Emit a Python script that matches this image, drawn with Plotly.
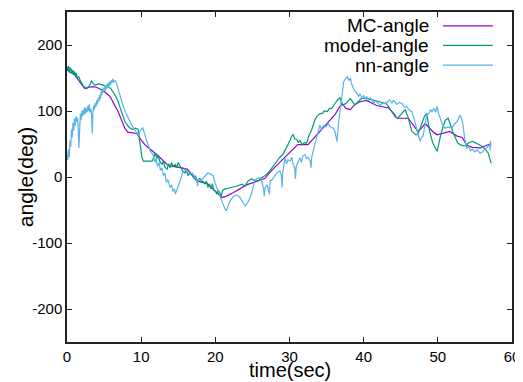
import plotly.graph_objects as go

# ---- data ----
mc_t = [0, 1, 2, 2.4, 3, 3.4, 4, 4.4, 5, 5.8, 6.4, 6.9, 7.4, 7.8, 8.2, 9.4, 10, 10.5, 11, 12.1,
        13.5, 14.2, 15, 16.2, 16.8, 17.5, 18.9, 20, 20.9, 21.5, 22.4, 24.2, 25.5, 26.7, 27.6,
        28.4, 29.8, 31.1, 32.5, 33.7, 35.1, 36.1, 36.8, 37.1, 37.6, 38.2, 38.8, 39.5, 40.4,
        41.1, 41.8, 43.3, 44, 44.5, 46, 46.6, 47.3, 47.8, 48.3, 48.8, 49.3, 49.9, 50.7, 51.6,
        52.6, 53.3, 53.9, 54.7, 55.7, 57]
mc_v = [162, 155, 140, 134, 136, 137, 136, 134, 130, 122, 110, 99, 85, 74, 68, 66, 56, 49, 44, 34,
        19, 16, 15, 12, 4, -6, -10, -22, -31, -29, -24, -12, -7, -2, 10,
        19, 34, 49, 49, 64, 80, 94, 107, 111, 104, 102, 110, 114, 116,
        112, 108, 105, 97, 89, 89, 80, 69, 74, 81, 75, 69, 64, 66, 69,
        62, 60, 48, 45, 44, 50]

model_t = [0, 0.1, 0.2, 0.3, 0.4, 0.5, 0.6, 0.7, 0.8, 0.9, 1.0, 1.1, 1.2, 1.4, 1.6, 1.8, 2.2, 2.7,
           3.1, 3.3, 3.5, 3.8, 4.2, 4.7, 5.1, 5.5, 5.9, 6.2, 6.6, 6.9, 7.3, 7.8, 8.3, 8.8, 9.2,
           9.6, 9.8, 10.1, 10.3, 11, 11.5, 11.9, 12.1, 12.3, 12.5, 12.8, 13.0, 13.2, 13.5, 13.7,
           13.9, 14.1, 14.3, 14.6, 14.8, 15.0, 15.2, 15.4, 15.6, 15.9, 16.1, 16.3, 16.6, 16.9,
           17.1, 17.3, 17.5, 17.7, 17.9, 18.1, 18.3, 18.6, 18.8, 19.0, 19.2, 19.4, 19.6, 19.8,
           20.0, 20.2, 20.4, 20.6, 20.8, 21.0, 21.3, 21.7, 22.2, 22.8, 23.6, 24.0, 24.4, 24.9,
           25.4, 25.8, 26.2, 26.7, 27.1, 27.6, 28.0, 28.4, 28.7, 29.1, 29.5, 29.8, 30.1, 30.3,
           30.5, 30.7, 31.0, 31.2, 31.4, 31.7, 32.0, 32.3, 32.6, 33.0, 33.2, 33.4, 33.7, 33.9,
           34.1, 34.4, 34.7, 35.1, 35.4, 35.7, 35.9, 36.1, 36.3, 36.5, 36.8, 37.0, 37.2, 37.7,
           38.2, 38.8, 39.3, 39.7, 40.4, 41.1, 42.0, 43.1, 43.5, 43.8, 44.2, 44.6, 45.1, 45.6,
           46.0, 46.5, 47.0, 47.3, 47.8, 48.2, 48.5, 48.9, 49.3, 49.9, 50.5, 51.0, 51.4, 52.0,
           52.7, 53.2, 53.7, 54.2, 54.7, 55.3, 55.9, 56.4, 56.8, 57.0, 57.2]
model_v = [167, 162, 168, 158, 166, 160, 164, 156, 162, 155, 160, 153, 158, 150, 152, 146, 138, 134,
           140, 146, 142, 139, 141, 140, 138, 137, 134, 129, 122, 114, 100, 84, 76, 72, 74,
           72, 54, 30, 24, 24, 24, 36, 28, 33, 24, 19, 24, 15, 12, 20,
           14, 22, 16, 19, 14, 22, 17, 12, 9, 6, 10, 2, 6, 2,
           -2, 2, -4, -6, -2, -8, -6, -11, -6, -16, -10, -18, -10, -20,
           -21, -26, -20, -24, -28, -20, -18, -17, -16, -14, -11, -14, -6, -3,
           -6, -6, -1, 2, 6, 14, 20, 27, 30, 34, 42, 49, 56, 62,
           64, 58, 57, 52, 56, 49, 52, 51, 62, 72, 80, 86, 92, 94,
           96, 96, 100, 99, 104, 104, 108, 111, 114, 117, 120, 114, 109, 112,
           119, 109, 114, 119, 119, 117, 115, 111, 104, 99, 92, 89, 95, 102,
           90, 69, 64, 64, 80, 92, 96, 69, 52, 39, 69, 86, 89, 69,
           51, 48, 47, 52, 54, 50, 47, 42, 36, 28, 21]

nn_t = [0.0, 0.1, 0.2, 0.3, 0.4, 0.5, 0.6, 0.7, 0.8, 0.9, 1.0, 1.1, 1.2, 1.3, 1.4, 1.5, 1.6, 1.7,
        1.8, 1.9, 2.0, 2.1, 2.2, 2.3, 2.4, 2.5, 2.6, 2.7, 2.8, 2.9, 3.0, 3.1, 3.2, 3.3, 3.4, 3.5,
        3.6, 3.7, 3.8, 3.9, 4.0, 4.1, 4.2, 4.3, 4.4, 4.5, 4.6, 4.7, 4.8, 4.9, 5.0, 5.1, 5.2, 5.3,
        5.4, 5.5, 5.6, 5.7, 5.8, 5.9, 6.0, 6.1, 6.2, 6.3, 6.5, 6.7, 7.0, 7.4, 7.8, 8.1, 8.5, 8.8,
        9.2, 9.6, 9.9, 10.2, 10.6, 10.9, 11.2, 11.6, 11.9, 12.0, 12.2, 12.4, 12.6, 12.8, 13.0,
        13.2, 13.4, 13.6, 13.9, 14.1, 14.3, 14.5, 14.6, 14.8, 15.0, 15.3, 15.6, 15.9, 16.2, 16.5,
        16.9, 17.2, 17.5, 17.6, 17.7, 18.0, 18.3, 18.6, 19.0, 19.4, 19.7, 20.0, 20.3, 20.6, 21.0,
        21.3, 21.5, 21.7, 22.0, 22.4, 22.7, 23.0, 23.3, 23.7, 24.0, 24.3, 24.7, 25.0, 25.3, 25.6,
        26.0, 26.3, 26.5, 26.6, 26.7, 27.0, 27.2, 27.3, 27.4, 27.7, 28.0, 28.3, 28.7, 28.9, 29.0,
        29.1, 29.4, 29.6, 29.8, 30.1, 30.3, 30.5, 30.7, 30.8, 30.9, 31.1, 31.4, 31.6, 31.8, 32.1,
        32.3, 32.5, 32.8, 32.9, 33.0, 33.2, 33.4, 33.6, 33.8, 34.1, 34.3, 34.6, 34.9, 35.2, 35.5,
        35.9, 36.1, 36.3, 36.4, 36.6, 36.8, 37.0, 37.1, 37.3, 37.5, 37.8, 38.0, 38.2, 38.4, 38.6,
        38.8, 39.1, 39.3, 39.5, 39.8, 40.0, 40.2, 40.4, 40.7, 40.9, 41.1, 41.4, 41.6, 41.9, 42.2,
        42.5, 42.9, 43.2, 43.5, 43.8, 44.0, 44.2, 44.5, 44.8, 45.2, 45.5, 45.8, 46.1, 46.5, 46.8,
        47.0, 47.2, 47.4, 47.6, 47.8, 48.0, 48.3, 48.5, 48.8, 49.0, 49.2, 49.5, 49.7, 49.9, 50.1,
        50.3, 50.6, 51.0, 51.4, 51.9, 52.2, 52.6, 52.8, 53.0, 53.2, 53.4, 53.6, 53.9, 54.2, 54.4,
        54.7, 55.0, 55.3, 55.7, 56.0, 56.4, 56.7, 57.0, 57.05, 57.1, 57.15]
nn_v = [34, 26, 42, 30, 55, 46, 72, 60, 82, 70, 88, 78, 92, 84, 90, 78, 44, 88,
        96, 86, 100, 92, 102, 94, 106, 96, 104, 98, 108, 100, 110, 98, 104, 96, 66, 100,
        108, 102, 112, 106, 116, 110, 120, 114, 124, 118, 130, 124, 134, 128, 136, 130, 138, 133,
        141, 136, 143, 138, 145, 140, 147, 143, 149, 144, 146, 141, 128, 114, 100, 92, 84, 77,
        70, 64, 70, 75, 60, 49, 40, 34, 22, 28, 16, 22, 10, 14, 2,
        6, -8, -4, -16, -12, -22, -18, -26, -20, -14, -2, 6, 12, 8, 4,
        6, 0, -3, -14, -3, -6, -2, 2, 6, 4, 2, -10, -20, -29, -40,
        -48, -51, -44, -36, -30, -27, -28, -31, -38, -44, -40, -31, -20, -6, -2,
        -1, -8, -18, -29, -16, -12, -20, -26, -6, -4, 2, 6, 9, 2, -16,
        8, 29, 20, 26, 24, 30, 18, 14, -3, 16, 22, 29, 22, 32, 34,
        28, 30, 24, 14, 30, 40, 49, 60, 70, 79, 72, 78, 76, 81, 76,
        74, 70, 58, 54, 80, 99, 120, 134, 144, 148, 152, 146, 150, 140, 136,
        130, 127, 122, 126, 119, 124, 118, 122, 116, 120, 117, 112, 116, 111, 108,
        112, 111, 114, 117, 112, 116, 114, 110, 113, 111, 106, 107, 102, 99, 88,
        80, 74, 64, 54, 60, 62, 80, 94, 96, 102, 99, 104, 98, 107, 96,
        89, 80, 74, 76, 74, 80, 84, 90, 94, 88, 79, 60, 44, 46, 40,
        42, 38, 41, 36, 38, 42, 46, 49, 40, 55, 46]

series_names = ["MC-angle", "model-angle", "nn-angle"]
series_colors = ["#9400d3", "#009e73", "#56b4e9"]

x_ticks = [0, 10, 20, 30, 40, 50, 60]
y_ticks = [-200, -100, 0, 100, 200]
y_tick_labels = ["-200", "-100", "0", "100", "200"]

FONT = "Liberation Sans, Arial, sans-serif"

fig = go.Figure()
for name, t, v, c in zip(series_names, [mc_t, model_t, nn_t], [mc_v, model_v, nn_v], series_colors):
    fig.add_trace(go.Scatter(x=t, y=v, mode="lines", name=name,
                             line=dict(color=c, width=1.2), showlegend=False))

# gnuplot-style key: right-aligned text with the line sample on its right
legend_y = [0.958, 0.899, 0.839]
for name, c, yy in zip(series_names, series_colors, legend_y):
    fig.add_annotation(x=0.818, y=yy, xref="paper", yref="paper", text=name,
                       showarrow=False, xanchor="right", yanchor="middle",
                       font=dict(family=FONT, size=19, color="black"))
    fig.add_shape(type="line", xref="paper", yref="paper", x0=0.845, x1=0.957,
                  y0=yy, y1=yy, line=dict(color=c, width=1.3))

axis_common = dict(showline=True, linecolor="#222", linewidth=1.5, mirror="ticks",
                   ticks="inside", ticklen=5, tickcolor="#222", showgrid=False,
                   zeroline=False, tickfont=dict(family=FONT, size=15, color="black"))
fig.update_xaxes(range=[0, 60], tickvals=x_ticks, **axis_common)
fig.update_yaxes(range=[-250, 250], tickvals=y_ticks, ticktext=y_tick_labels, **axis_common)

fig.add_annotation(x=0.5, y=-0.086, xref="paper", yref="paper", text="time(sec)",
                   showarrow=False, xanchor="center", yanchor="middle",
                   font=dict(family=FONT, size=20, color="black"))
fig.add_annotation(x=-0.094, y=0.5, xref="paper", yref="paper", text="angle(deg)",
                   showarrow=False, xanchor="center", yanchor="middle", textangle=-90,
                   font=dict(family=FONT, size=21, color="black"))

# the page body adds an 8px margin, so the figure is 8px smaller and margins shifted
fig.update_layout(width=515, height=374, margin=dict(l=59, r=11, t=2, b=40),
                  plot_bgcolor="white", paper_bgcolor="white")
fig.write_html("out.html")
